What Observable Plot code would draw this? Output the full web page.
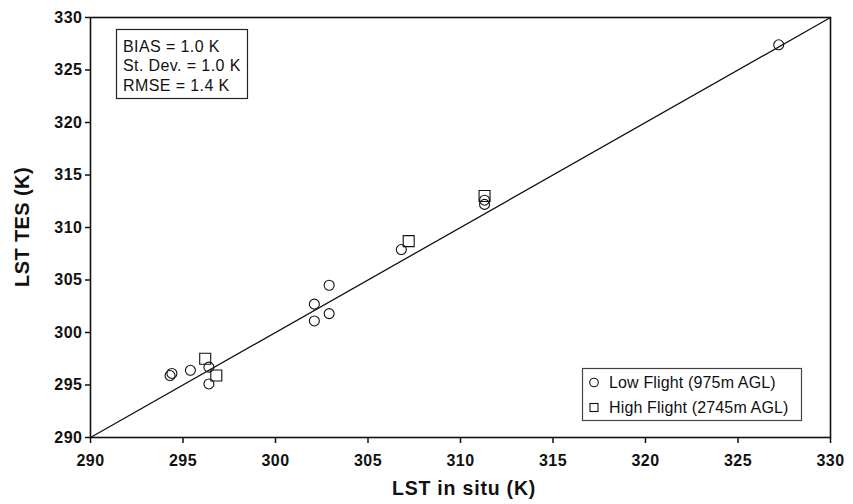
<!DOCTYPE html>
<html>
<head>
<meta charset="utf-8">
<script src="https://cdn.jsdelivr.net/npm/d3@7"></script>
<script src="https://cdn.jsdelivr.net/npm/@observablehq/plot@0.6"></script>
<style>
  html, body { margin: 0; padding: 0; background: #fff; }
  #chart svg { display: block; font-family: "Liberation Sans", Arial, sans-serif; }
</style>
</head>
<body>
<div id="chart"></div>
<script>
// Data
const lowInSitu  = [294.3, 294.4, 295.4, 296.4, 296.4, 302.1, 302.9, 302.9, 302.1, 306.8, 311.3, 311.3, 327.2];
const lowTES     = [295.9, 296.1, 296.4, 296.7, 295.1, 302.7, 304.5, 301.8, 301.1, 307.9, 312.6, 312.2, 327.4];
const highInSitu = [296.2, 296.8, 307.2, 311.3];
const highTES    = [297.5, 295.9, 308.7, 313.0];
const axisTicks  = [290, 295, 300, 305, 310, 315, 320, 325, 330];
const oneToOne   = [290, 330];
const xTitle = "LST in situ (K)";
const yTitle = "LST TES (K)";
const statsLines = ["BIAS = 1.0 K", "St. Dev. = 1.0 K", "RMSE = 1.4 K"];
const legendLabels = ["Low Flight (975m AGL)", "High Flight (2745m AGL)"];

const low = lowInSitu.map((x, i) => ({x, y: lowTES[i]}));
const high = highInSitu.map((x, i) => ({x, y: highTES[i]}));
const diag = oneToOne.map(v => ({x: v, y: v}));

const W = 853, H = 504;
const ML = 90, MR = 23, MT = 17, MB = 67;
const chart = Plot.plot({
  width: W, height: H,
  marginLeft: ML, marginRight: MR, marginTop: MT, marginBottom: MB,
  x: {domain: [290, 330], ticks: axisTicks, label: null, tickSize: 6, tickPadding: 11},
  y: {domain: [290, 330], ticks: axisTicks, label: null, tickSize: 5, tickPadding: 3},
  marks: [
    Plot.line(diag, {x: "x", y: "y", stroke: "#111", strokeWidth: 1.3}),
    Plot.dot(low, {x: "x", y: "y", r: 5, symbol: "circle", stroke: "#111", fill: "none", strokeWidth: 1.1}),
    Plot.dot(high, {x: "x", y: "y", r: 6.2, symbol: "square", stroke: "#111", fill: "none", strokeWidth: 1.1}),
    Plot.frame({stroke: "#111", strokeWidth: 1.6})
  ]
});
document.getElementById("chart").appendChild(chart);

const svg = d3.select(chart);
const bold = '"Liberation Sans", Arial, sans-serif';
svg.selectAll('g[aria-label*="axis"] path')
  .attr("stroke", "#111").attr("stroke-width", 1.5);
svg.selectAll('g[aria-label*="axis"] text')
  .attr("font-family", bold).attr("font-weight", "bold")
  .attr("font-size", 16).attr("fill", "#111").attr("letter-spacing", 0.5)
  .style("font-family", bold).style("font-weight", "bold").style("font-size", "16px");

// Axis titles
svg.append("text").attr("x", ML + (W - ML - MR) / 2 + 4).attr("y", 495)
  .attr("text-anchor", "middle").attr("font-family", bold).attr("font-weight", "bold")
  .attr("font-size", 19.5).attr("letter-spacing", 0.8).attr("fill", "#111").text(xTitle);
svg.append("text")
  .attr("transform", `translate(29,${MT + (H - MT - MB) / 2}) rotate(-90)`)
  .attr("text-anchor", "middle").attr("font-family", bold).attr("font-weight", "bold")
  .attr("font-size", 20).attr("letter-spacing", 0.4).attr("fill", "#111").text(yTitle);

// Stats box (top-left)
const sb = svg.append("g");
sb.append("rect").attr("x", 116.5).attr("y", 29.5).attr("width", 131).attr("height", 69)
  .attr("fill", "white").attr("stroke", "#222").attr("stroke-width", 1.2);
statsLines.forEach((t, i) => {
  sb.append("text").attr("x", 123).attr("y", 51.5 + i * 19.5).attr("text-anchor", "start")
    .attr("font-size", 16).attr("letter-spacing", 0.4).attr("fill", "#111")
    .attr("font-family", bold).text(t);
});

// Legend box (bottom-right)
const lg = svg.append("g");
lg.append("rect").attr("x", 582.5).attr("y", 368.5).attr("width", 219).attr("height", 52)
  .attr("fill", "white").attr("stroke", "#444").attr("stroke-width", 1.2);
legendLabels.forEach((t, i) => {
  const cy = 382.5 + i * 25;
  if (i === 0) {
    lg.append("circle").attr("cx", 594).attr("cy", cy).attr("r", 4.3)
      .attr("fill", "none").attr("stroke", "#111").attr("stroke-width", 1.1);
  } else {
    lg.append("rect").attr("x", 590).attr("y", cy - 4).attr("width", 8).attr("height", 8)
      .attr("fill", "none").attr("stroke", "#111").attr("stroke-width", 1.1);
  }
  lg.append("text").attr("x", 609).attr("y", cy + 5).attr("text-anchor", "start")
    .attr("font-size", 16).attr("letter-spacing", 0.15).attr("fill", "#111")
    .attr("font-family", bold).text(t);
});
</script>
</body>
</html>
